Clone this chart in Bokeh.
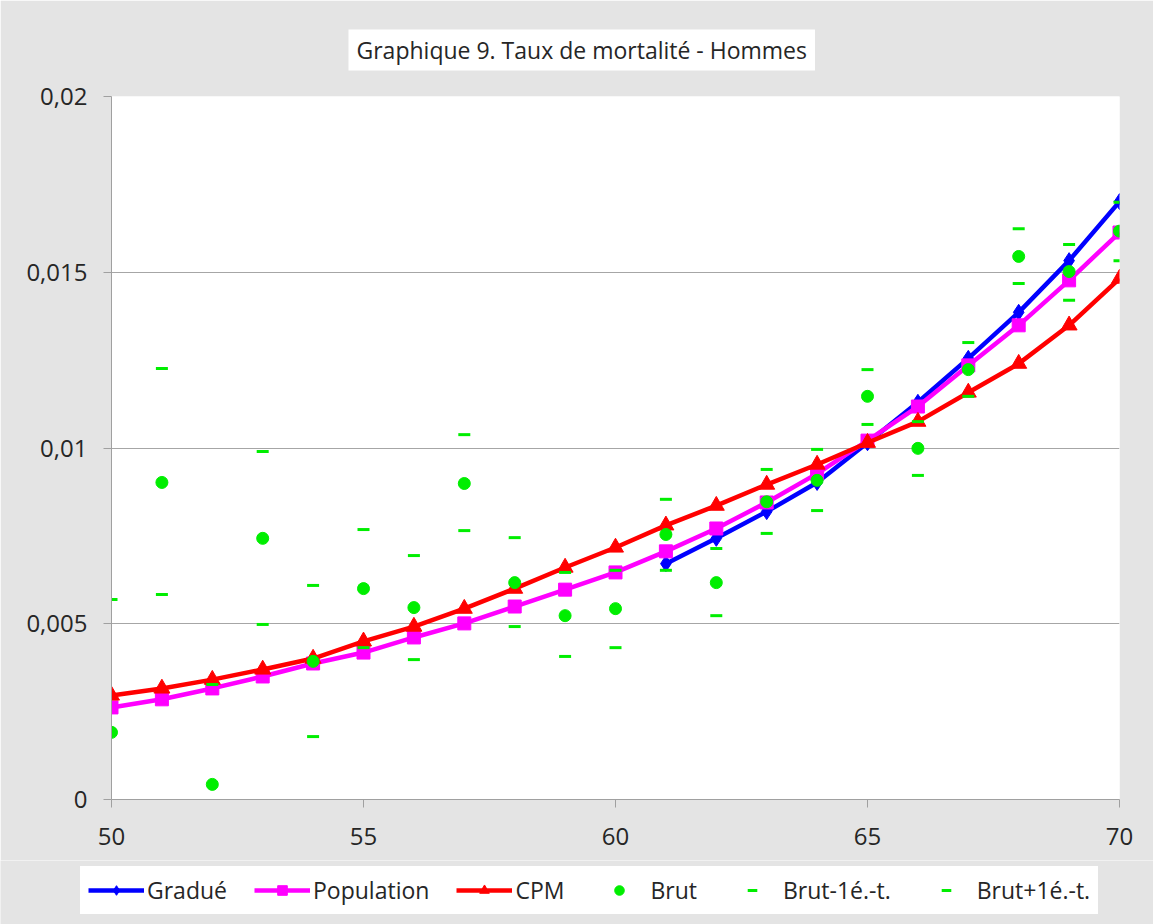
import math
from bokeh.plotting import figure
from bokeh.models import Legend, LegendItem, FixedTicker, Range1d
from bokeh.embed import file_html
from bokeh.resources import INLINE

NaN = float("nan")

ages = list(range(50, 71))
ages_gradue = list(range(61, 71))

gradue = [0.00671, 0.00743, 0.00819, 0.00902, 0.01015, 0.0113, 0.01255, 0.01386, 0.01533, 0.01701]
population = [0.00262, 0.00285, 0.00316, 0.0035, 0.00387, 0.00418, 0.00461, 0.00501, 0.00549, 0.00597,
              0.00646, 0.00706, 0.00771, 0.00845, 0.00927, 0.01021, 0.01118, 0.01235, 0.01349, 0.01477, 0.01613]
cpm = [0.00296, 0.00316, 0.00341, 0.0037, 0.00401, 0.0045, 0.00492, 0.00543, 0.006, 0.0066,
       0.00717, 0.0078, 0.00836, 0.00896, 0.00953, 0.01015, 0.01075, 0.01158, 0.0124, 0.01349, 0.01482]
brut = [0.00191, 0.00902, 0.00043, 0.00743, 0.00393, 0.0060, 0.00546, 0.00899, 0.00617, 0.00523,
        0.00543, 0.00754, 0.00617, 0.00847, 0.00908, 0.01147, 0.00999, 0.01223, 0.01545, 0.01502, 0.01617]
brut_moins = [NaN, 0.00583, NaN, 0.00498, 0.00179, 0.00432, 0.00398, 0.00765, 0.00492, 0.00407,
              0.00432, 0.00652, 0.00523, 0.00757, 0.00822, 0.01067, 0.00922, 0.01147, 0.01468, 0.0142, 0.01533]
brut_plus = [0.00569, 0.01226, 0.00327, 0.0099, 0.00609, 0.00768, 0.00694, 0.01038, 0.00745, 0.00646,
             0.00652, 0.00854, 0.00714, 0.00939, 0.00996, 0.01223, 0.01075, 0.013, 0.01624, 0.01579, 0.01699]

x_ticks = [50, 55, 60, 65, 70]
y_ticks = [0, 0.005, 0.01, 0.015, 0.02]
y_tick_labels = ["0", "0,005", "0,01", "0,015", "0,02"]
series_labels = ["Gradué", "Population", "CPM", "Brut", "Brut-1é.-t.", "Brut+1é.-t."]

title_text = "Graphique 9. Taux de mortalité - Hommes"
FONT = "Open Sans"
TXT = "#262626"
GRAY_BG = "#e4e4e4"
AXIS = "#a0a0a0"
GREEN = "#00ee00"

STY = {
    "Gradué": dict(color="#0000ff", marker="diamond", size=16),
    "Population": dict(color="#ff00ff", marker="square", size=13),
    "CPM": dict(color="#ff0000", marker="triangle", size=16),
}

p = figure(width=1153, height=860, output_backend="svg", toolbar_location=None,
           x_range=Range1d(50, 70), y_range=Range1d(0, 0.02),
           min_border_left=111, min_border_right=34, min_border_top=96, min_border_bottom=61,
           background_fill_color="white", border_fill_color=GRAY_BG, outline_line_color=None)

p.title.text = title_text
p.title.align = "left"
p.title.offset = 237
p.title.text_font = FONT
p.title.text_font_size = "23px"
p.title.text_font_style = "normal"
p.title.text_color = TXT
p.title.background_fill_color = "white"
p.title.standoff = 52
p.title.padding = dict(left=8, right=8, top=4, bottom=5)

for ax in (p.xaxis[0], p.yaxis[0]):
    ax.axis_line_color = AXIS
    ax.major_tick_line_color = AXIS
    ax.major_tick_in = 0
    ax.major_tick_out = 8
    ax.minor_tick_in = 0
    ax.minor_tick_out = 0
    ax.major_label_text_font = FONT
    ax.major_label_text_font_size = "24px"
    ax.major_label_text_color = TXT

p.xaxis.ticker = FixedTicker(ticks=x_ticks, minor_ticks=[])
p.xaxis.major_label_standoff = 20
p.yaxis.ticker = FixedTicker(ticks=y_ticks, minor_ticks=[])
p.yaxis.major_label_overrides = {t: s for t, s in zip(y_ticks, y_tick_labels)}
p.yaxis.major_label_standoff = 16

p.xgrid.visible = False
p.ygrid.grid_line_color = "#a6a6a6"
p.ygrid.grid_line_width = 1


def draw_series(fig, xs, ys, name):
    s = STY[name]
    ln = fig.line(xs, ys, line_color=s["color"], line_width=4.5)
    pt = fig.scatter(xs, ys, marker=s["marker"], size=s["size"], fill_color=s["color"], line_color=s["color"])
    return [ln, pt]


def draw_brut(fig, xs, ys):
    return [fig.scatter(xs, ys, marker="circle", size=12, fill_color=GREEN, line_color=GREEN)]


def draw_dash(fig, xs, ys):
    return [fig.scatter(xs, ys, marker="dash", size=12, line_color=GREEN, line_width=3)]


draw_series(p, ages_gradue, gradue, "Gradué")
draw_series(p, ages, population, "Population")
draw_series(p, ages, cpm, "CPM")
draw_brut(p, ages, brut)
draw_dash(p, ages, brut_moins)
draw_dash(p, ages, brut_plus)

# legend strip below the chart: same series, drawn outside this strip's view so only the legend shows
lg = figure(width=1153, height=64, output_backend="svg", toolbar_location=None,
            x_range=Range1d(0, 1), y_range=Range1d(0, 1),
            x_axis_location=None, y_axis_location=None, min_border=0,
            background_fill_color=GRAY_BG, border_fill_color=GRAY_BG, outline_line_color=None)
lg.grid.visible = False
leg_r = [
    draw_series(lg, ages_gradue, gradue, "Gradué"),
    draw_series(lg, ages, population, "Population"),
    draw_series(lg, ages, cpm, "CPM"),
    draw_brut(lg, ages, brut),
    draw_dash(lg, ages, brut_moins),
    draw_dash(lg, ages, brut_plus),
]
legend = Legend(items=[LegendItem(label=lab, renderers=rr) for lab, rr in zip(series_labels, leg_r)],
                location=(80, 10), orientation="horizontal", padding=7, spacing=27, margin=0,
                glyph_width=56, glyph_height=24, label_height=24, label_standoff=3,
                label_text_font=FONT, label_text_font_size="23px", label_text_color=TXT,
                border_line_color="white", border_line_width=1,
                background_fill_color="white", background_fill_alpha=1.0)
lg.add_layout(legend)

open("out.html", "w").write(file_html([p, lg], INLINE))
